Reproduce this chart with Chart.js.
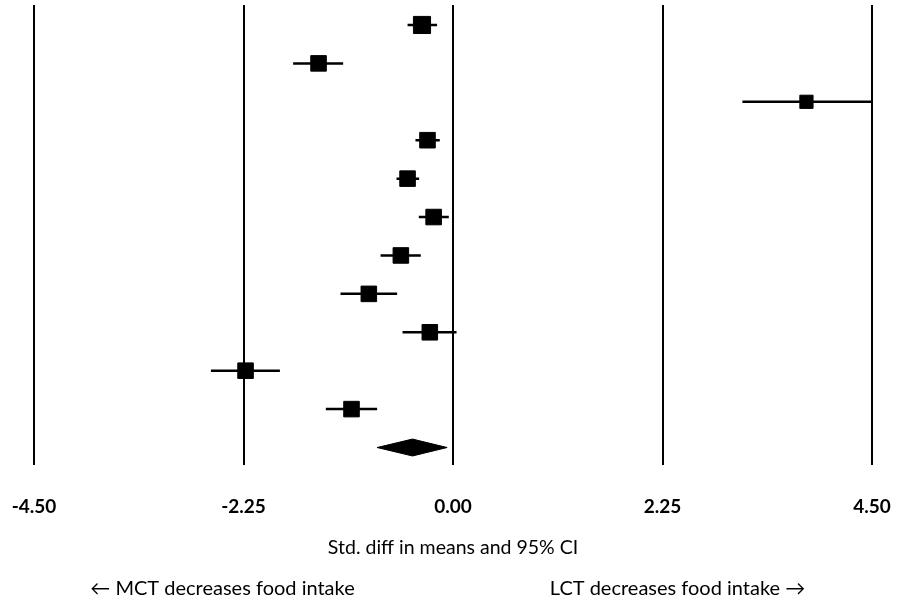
<!DOCTYPE html>
<html>
<head>
<meta charset="utf-8">
<script src="https://cdn.jsdelivr.net/npm/chart.js@4/dist/chart.umd.min.js"></script>
<style>
  html, body { margin: 0; padding: 0; background: #ffffff; }
  #wrap { width: 912px; height: 606px; position: relative; }
</style>
</head>
<body>
<div id="wrap"><canvas id="c" width="912" height="606"></canvas></div>
<script>
// ---- Data ----
const studyEstimates = [-0.333, -1.444, 3.796, -0.274, -0.488, -0.208, -0.560, -0.904, -0.249, -2.228, -1.090];
const studyLower     = [-0.488, -1.717, 3.108, -0.403, -0.607, -0.367, -0.778, -1.208, -0.542, -2.600, -1.366];
const studyUpper     = [-0.171, -1.180, 4.500, -0.142, -0.364, -0.045, -0.346, -0.600,  0.038, -1.859, -0.815];
const studyWeights   = [1.1, 1.0, 0.85, 1.0, 1.0, 1.0, 1.0, 1.0, 1.0, 1.0, 1.0];
const pooledEstimate = -0.435;
const pooledLower    = -0.815;
const pooledUpper    = -0.063;
const tickValues     = [-4.5, -2.25, 0, 2.25, 4.5];
const axisTitle      = 'Std. diff in means and 95% CI';
const leftNote       = '\u2190 MCT decreases food intake';
const rightNote      = 'LCT decreases food intake \u2192';

// ---- Build datasets ----
const ciData = [];
studyLower.forEach((lo, i) => {
  ciData.push({x: lo, y: i}, {x: studyUpper[i], y: i}, {x: null, y: null});
});
const pointData = studyEstimates.map((v, i) => ({x: v, y: i}));
const pooledRow = studyEstimates.length;
const dh = 0.22; // diamond half height in row units (style)
const diamondData = [
  {x: pooledLower, y: pooledRow},
  {x: pooledEstimate, y: pooledRow - dh},
  {x: pooledUpper, y: pooledRow},
  {x: pooledEstimate, y: pooledRow + dh},
  {x: pooledLower, y: pooledRow}
];

const FONT = "Lato, 'DejaVu Sans', sans-serif";

const notesPlugin = {
  id: 'notes',
  afterDraw(chart) {
    const ctx = chart.ctx;
    const xs = chart.scales.x;
    ctx.save();
    ctx.fillStyle = '#000';
    ctx.textAlign = 'center';
    ctx.textBaseline = 'middle';
    ctx.font = "19.5px " + FONT;
    ctx.fillText(axisTitle, xs.getPixelForValue(0), 548);
    ctx.font = "20px " + FONT;
    ctx.fillText(leftNote, 222.5, 589);
    ctx.fillText(rightNote, 677.5, 589);
    ctx.restore();
  }
};

new Chart(document.getElementById('c'), {
  data: {
    datasets: [
      {
        type: 'scatter',
        data: pointData,
        pointStyle: 'rect',
        pointRadius: studyWeights.map(w => 11 * w),
        backgroundColor: '#000',
        borderColor: '#000',
        borderWidth: 1,
        order: 0
      },
      {
        type: 'line',
        data: ciData,
        borderColor: '#000',
        borderWidth: 2.5,
        pointRadius: 0,
        spanGaps: false,
        fill: false,
        order: 1
      },
      {
        type: 'line',
        data: diamondData,
        borderColor: '#000',
        backgroundColor: '#000',
        borderWidth: 1,
        pointRadius: 0,
        fill: 'shape',
        order: 0
      }
    ]
  },
  options: {
    responsive: false,
    animation: false,
    devicePixelRatio: 1,
    layout: { autoPadding: false, padding: { left: 34, right: 40, top: 5, bottom: 0 } },
    plugins: { legend: { display: false }, tooltip: { enabled: false } },
    scales: {
      x: {
        type: 'linear',
        min: -4.5,
        max: 4.5,
        afterBuildTicks: (scale) => { scale.ticks = tickValues.map(v => ({value: v})); },
        afterFit: (scale) => {
          scale.height = 141;
          scale.paddingLeft = 0; scale.paddingRight = 0;
          scale.paddingTop = 0; scale.paddingBottom = 0;
        },
        grid: { color: '#000', lineWidth: 2, drawTicks: false },
        border: { display: false },
        ticks: {
          padding: 30,
          color: '#000',
          font: { family: FONT, size: 19, weight: 'bold' },
          callback: (v) => Number(v).toFixed(2),
          maxRotation: 0
        }
      },
      y: {
        type: 'linear',
        reverse: true,
        min: -0.52,
        max: 11.455,
        display: false
      }
    }
  },
  plugins: [notesPlugin]
});
</script>
</body>
</html>
